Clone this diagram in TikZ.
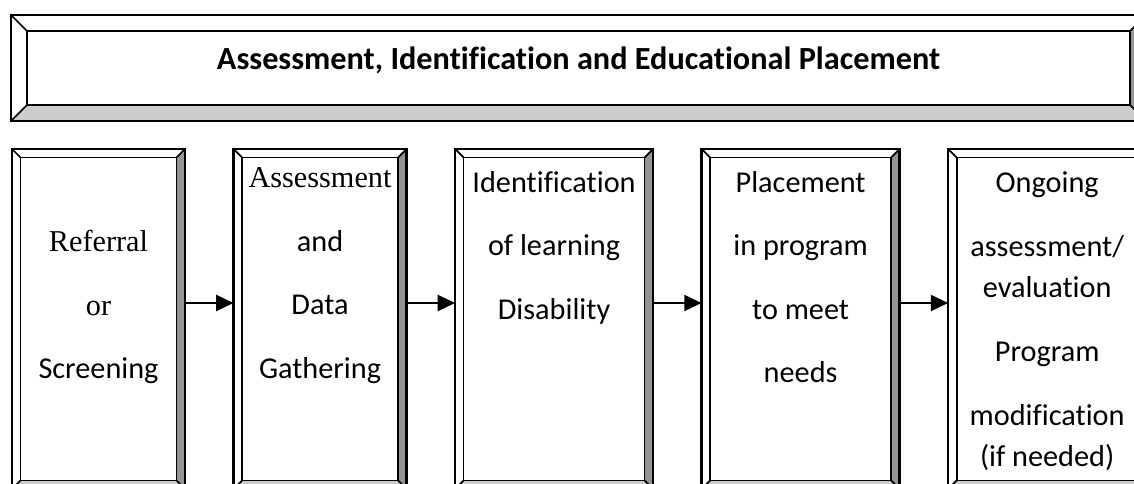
\documentclass[tikz,border=0pt]{standalone}
\usepackage{fontspec}
\setmainfont{Carlito}[Ligatures=NoCommon]
\newfontfamily\timesfont{Liberation Serif}
\usetikzlibrary{positioning, calc, arrows.meta}

\tikzset{
  bevright/.style={fill=black!42},
  bevbottom/.style={fill=black!20},
  bevline/.style={line width=1.3pt},
  bevouter/.style={line width=2pt},
  panel/.style={rectangle, inner sep=0pt, outer sep=0pt, minimum height=255pt},
  txt/.style={inner sep=0pt, align=center, font=\fontsize{22.7}{47.6}\selectfont},
  arr/.style={line width=1.6pt, -{Triangle[length=13pt, width=12pt]}}
}

% bevel frame round a node: name, depth
\newcommand\bevel[2]{%
  \fill[bevright] (#1.north east) -- (#1.south east) -- ($(#1.south east)+(-#2,#2)$) -- ($(#1.north east)+(-#2,-#2)$) -- cycle;
  \fill[bevbottom] (#1.south west) -- (#1.south east) -- ($(#1.south east)+(-#2,#2)$) -- ($(#1.south west)+(#2,#2)$) -- cycle;
  \draw[bevline] (#1.north west) -- ++(#2,-#2) (#1.north east) -- ++(-#2,-#2)
    (#1.south west) -- ++(#2,#2) (#1.south east) -- ++(-#2,#2);
  \draw[bevline] ($(#1.north west)+(#2,-#2)$) rectangle ($(#1.south east)+(-#2,#2)$);
  \draw[bevouter] (#1.north west) rectangle (#1.south east);
}

\begin{document}
\begin{tikzpicture}[x=0.75pt, y=0.75pt, node distance=36.4pt]
  \useasboundingbox (0,0) rectangle (1134,-484);
  \clip (0,0) rectangle (1134,-484);

  % heading
  \node[panel, minimum width=851.25pt, minimum height=79.5pt] (head) at (578.5,-68) {};
  \bevel{head}{16}
  \node[inner sep=0pt, font=\fontsize{24.2}{29}\selectfont\bfseries] (headtxt) at ([yshift=5.5pt]head.center)
    {Assessment, Identification and Educational Placement};

  % steps
  \node[panel, minimum width=129.75pt] (refer) at (98.5,-319) {};
  \node[panel, minimum width=129.75pt, right=of refer] (gather) {};
  \node[panel, minimum width=148.5pt, right=of gather] (ident) {};
  \node[panel, minimum width=148.5pt, right=of ident] (place) {};
  \node[panel, minimum width=148.5pt, right=of place] (ongoing) {};

  \foreach \b in {refer, gather, ident, place, ongoing}{
    \bevel{\b}{8.5}
  }

  \node[txt, below=60.75pt of refer.north] (refertxt)
    {{\timesfont Referral}\\{\timesfont or}\\Screening};
  \node[txt, below=14pt of gather.north] (gathertxt)
    {{\timesfont Assessment}\\and\\Data\\Gathering};
  \node[txt, below=16.5pt of ident.north] (identtxt)
    {Identification\\of learning\\Disability};
  \node[txt, below=16.5pt of place.north] (placetxt)
    {Placement\\in program\\to meet\\needs};
  \node[txt, font=\fontsize{22.7}{31}\selectfont, below=16.5pt of ongoing.north] (ongoingtxt)
    {Ongoing\\[17pt]assessment/\\evaluation\\[17pt]Program\\[17pt]modification\\(if needed)};

  \draw[arr] ([yshift=12pt]refer.east) -- ([yshift=12pt]gather.west);
  \draw[arr] ([yshift=12pt]gather.east) -- ([yshift=12pt]ident.west);
  \draw[arr] ([yshift=12pt]ident.east) -- ([yshift=12pt]place.west);
  \draw[arr] ([yshift=12pt]place.east) -- ([yshift=12pt]ongoing.west);
\end{tikzpicture}
\end{document}
